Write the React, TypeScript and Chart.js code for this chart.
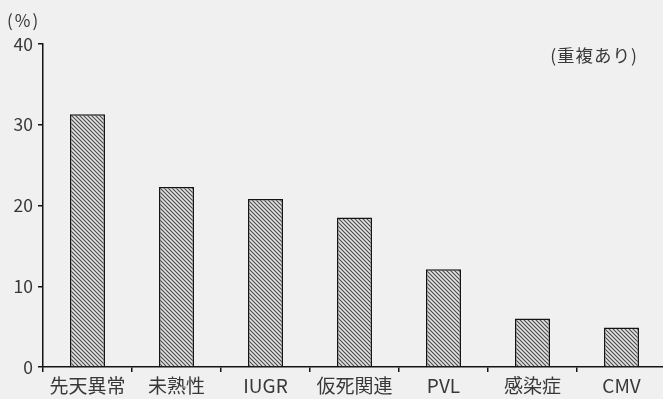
import { useEffect, useRef } from 'react';
import { Chart, registerables } from 'chart.js';

Chart.register(...registerables);

const categories = ['先天異常', '未熟性', 'IUGR', '仮死関連', 'PVL', '感染症', 'CMV'];
const percentages = [31.3, 22.3, 20.8, 18.5, 12.1, 6.0, 4.9];
const yTicks = [0, 10, 20, 30, 40];
const yUnitLabel = '(%)';
const noteLabel = '(重複あり)';

const FONT = "'Noto Sans CJK JP', 'Noto Sans', sans-serif";
const TEXT = '#383838';
const LINE = '#141414';
const BG = '#f0f0f0';

function makeHatch(): CanvasPattern | string {
  const c = document.createElement('canvas');
  c.width = 4;
  c.height = 4;
  const g = c.getContext('2d');
  if (!g) return '#999';
  g.fillStyle = '#e2e2e2';
  g.fillRect(0, 0, 4, 4);
  g.strokeStyle = '#4a4a4a';
  g.lineWidth = 1.1;
  g.beginPath();
  g.moveTo(-1, -1);
  g.lineTo(5, 5);
  g.moveTo(-1, 3);
  g.lineTo(1, 5);
  g.moveTo(3, -1);
  g.lineTo(5, 1);
  g.stroke();
  const p = g.createPattern(c, 'repeat');
  return p || '#999';
}

export default function App() {
  const ref = useRef<HTMLCanvasElement | null>(null);

  useEffect(() => {
    const canvas = ref.current;
    if (!canvas) return;
    const hatch = makeHatch();

    const bgPlugin = {
      id: 'bg',
      beforeDraw(chart: any) {
        const ctx = chart.ctx;
        ctx.save();
        ctx.fillStyle = BG;
        ctx.fillRect(0, 0, chart.width, chart.height);
        ctx.restore();
      },
    };

    const textPlugin = {
      id: 'texts',
      afterDraw(chart: any) {
        const ctx = chart.ctx;
        ctx.save();
        ctx.fillStyle = TEXT;
        ctx.font = `17px ${FONT}`;
        ctx.textBaseline = 'middle';
        (ctx as any).letterSpacing = '2px';
        ctx.textAlign = 'left';
        ctx.fillText(yUnitLabel, 7, 21);
        (ctx as any).letterSpacing = '1px';
        ctx.font = `17.5px ${FONT}`;
        ctx.textAlign = 'right';
        ctx.fillText(noteLabel, 638, 55);
        ctx.restore();
      },
    };

    const chart = new Chart(canvas, {
      type: 'bar',
      data: {
        labels: categories,
        datasets: [
          {
            data: percentages,
            backgroundColor: hatch as any,
            borderColor: LINE,
            borderWidth: 1.5,
            barPercentage: 0.393,
            categoryPercentage: 1,
          },
        ],
      },
      options: {
        responsive: false,
        animation: false,
        devicePixelRatio: 1,
        layout: { padding: { top: 44, right: 2, left: 0, bottom: 0 } },
        plugins: {
          legend: { display: false },
          tooltip: { enabled: false },
        },
        scales: {
          x: {
            type: 'category',
            offset: true,
            grid: {
              offset: true,
              drawOnChartArea: false,
              drawTicks: true,
              tickLength: 5,
              color: LINE,
              lineWidth: 1.5,
            },
            border: { display: true, color: LINE, width: 1.5 },
            ticks: {
              color: TEXT,
              font: { family: FONT, size: 19 },
              padding: 2,
              maxRotation: 0,
              autoSkip: false,
            },
            afterFit(s: any) {
              s.height = 32;
            },
          },
          y: {
            min: 0,
            max: 40,
            afterBuildTicks(s: any) {
              s.ticks = yTicks.map((v) => ({ value: v }));
            },
            grid: {
              drawOnChartArea: false,
              drawTicks: true,
              tickLength: 5,
              color: LINE,
              lineWidth: 1.5,
            },
            border: { display: true, color: LINE, width: 1.5 },
            ticks: {
              color: TEXT,
              font: { family: FONT, size: 17.5 },
              padding: 5,
            },
            afterFit(s: any) {
              s.width = 43;
            },
          },
        },
      },
      plugins: [bgPlugin, textPlugin],
    });

    return () => chart.destroy();
  }, []);

  return (
    <div
      style={{
        position: 'fixed',
        left: 0,
        top: 0,
        width: 663,
        height: 399,
        overflow: 'hidden',
        background: BG,
      }}
    >
      <canvas ref={ref} width={668} height={399} style={{ width: 668, height: 399, display: 'block' }} />
    </div>
  );
}
